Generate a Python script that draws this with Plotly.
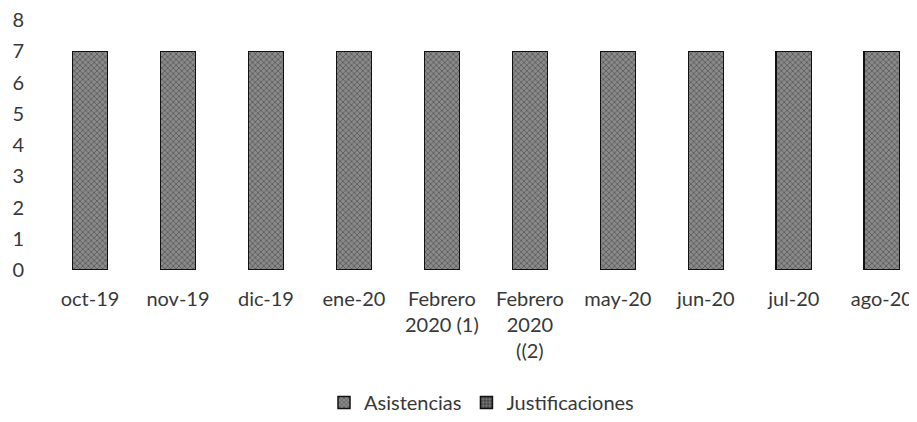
import plotly.graph_objects as go

categories = ["oct-19", "nov-19", "dic-19", "ene-20", "Febrero<br>2020 (1)",
              "Febrero<br>2020<br>((2)", "may-20", "jun-20", "jul-20", "ago-20"]
asistencias = [7, 7, 7, 7, 7, 7, 7, 7, 7, 7]
justificaciones = [0, 0, 0, 0, 0, 0, 0, 0, 0, 0]
y_ticks = [0, 1, 2, 3, 4, 5, 6, 7, 8]

FONT = "Lato"

fig = go.Figure()
fig.add_trace(go.Bar(
    x=categories, y=asistencias, name="Asistencias", width=0.4,
    marker=dict(color="#7a7a7a", line=dict(color="#111111", width=1.5),
                pattern=dict(shape="x", fgcolor="#222222", bgcolor="#8a8a8a",
                             size=4, solidity=0.35)),
))
fig.add_trace(go.Bar(
    x=categories, y=justificaciones, name="Justificaciones", width=0.4,
    marker=dict(color="#5e5e5e", line=dict(color="#111111", width=1.5),
                pattern=dict(shape=".", fgcolor="#1a1a1a", bgcolor="#707070",
                             size=4, solidity=0.4)),
))

fig.update_layout(
    width=909, height=414,
    barmode="stack",
    plot_bgcolor="white", paper_bgcolor="white",
    margin=dict(l=38, r=0, t=12, b=152, autoexpand=False),
    font=dict(family=FONT, size=20, color="#383838"),
    showlegend=True,
    legend=dict(orientation="h", x=0.5, xanchor="center", y=-0.53, yanchor="middle",
                font=dict(family=FONT, size=20, color="#383838"),
                itemwidth=30, traceorder="normal"),
    xaxis=dict(range=[-0.5, 9.4], showgrid=False, zeroline=False, showline=False,
               ticks="", tickangle=0, tickfont=dict(size=20), ticklabelstandoff=15,
               ticklabeloverflow="allow"),
    yaxis=dict(range=[0, 8], tickvals=y_ticks, showgrid=False, zeroline=False,
               showline=False, ticks="", ticklabelstandoff=21, tickfont=dict(size=20),
               ticklabeloverflow="allow"),
)

fig.write_html("out.html")
